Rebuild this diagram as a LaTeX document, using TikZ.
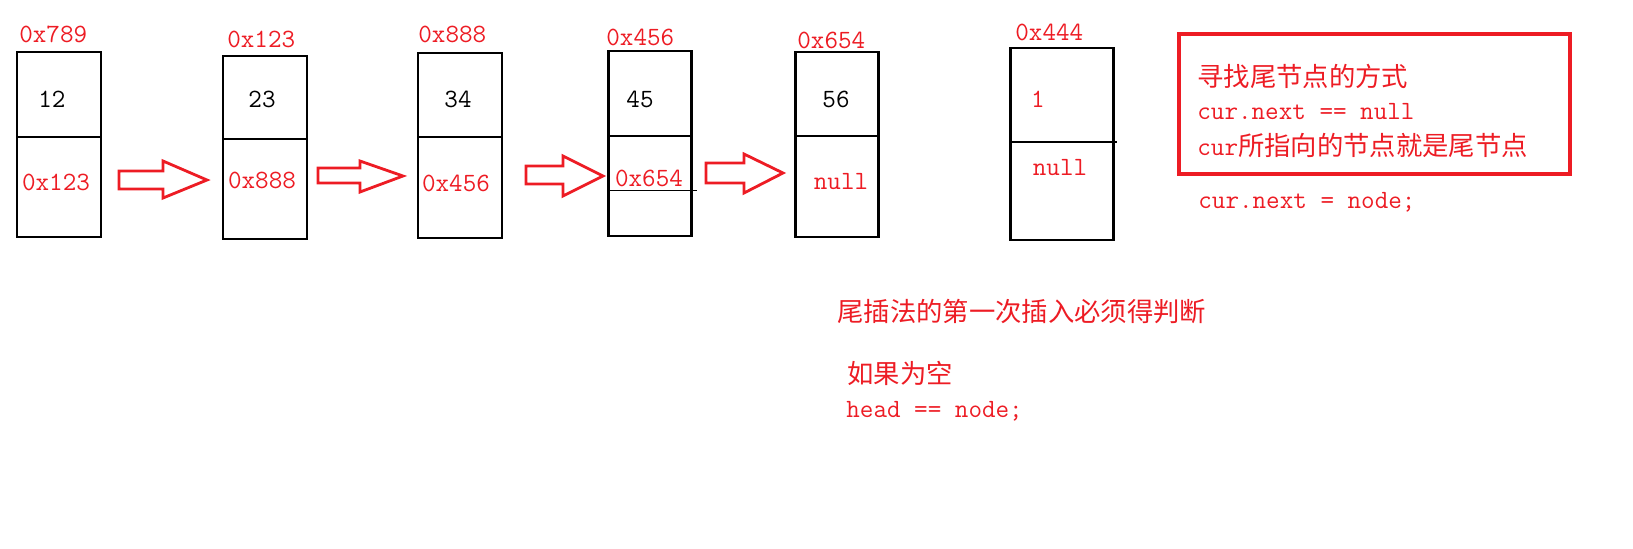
\documentclass[tikz,border=0pt]{standalone}
\usepackage{fontspec}
\newfontfamily\cjk{Noto Sans CJK SC}
\definecolor{paintred}{RGB}{237,28,36}
\tikzset{
	box/.style={draw=black,line width=1.7pt},
	fat/.style={draw=paintred,line width=1.6pt,line join=miter},
	txt/.style={inner sep=0pt,font=\fontsize{15pt}{18pt}\selectfont\ttfamily},
	adr/.style={txt,text=paintred,anchor=west},
	val/.style={txt,text=black},
	nxt/.style={txt,text=paintred}
}
\begin{document}
\begin{tikzpicture}[x=0.02cm,y=-0.02cm]
			\useasboundingbox (0,0) rectangle (1633,548);
			
			\node[adr] (L1) at (19,34) {0x789};
			\node[adr] (L2) at (227,39) {0x123};
			\node[adr] (L3) at (418,34) {0x888};
			\node[adr] (L4) at (606,37) {0x456};
			\node[adr] (L5) at (797,40) {0x654};
			\node[adr] (L6) at (1015,32) {0x444};
			
			\node[val] (V1) at (52,99) {12};
			\node[val] (V2) at (262,99) {23};
			\node[val] (V3) at (458,99) {34};
			\node[val] (V4) at (640,99) {45};
			\node[val] (V5) at (836,99) {56};
			\node[nxt] (V6) at (1038,99) {1};
			
			\node[nxt] (N1) at (56,182) {0x123};
			\node[nxt] (N2) at (262,180) {0x888};
			\node[nxt] (N3) at (456,183) {0x456};
			\node[nxt] (N4) at (649,178) {0x654};
			\node[nxt] (N5) at (841,182) {null};
			\node[nxt] (N6) at (1060,168) {null};
			
			\draw[box] (17,52) rectangle (101,237);
			\draw[box] (17,137) to (101,137);
			\draw[box] (223,56) rectangle (307,239);
			\draw[box] (223,139) to (307,139);
			\draw[box] (418,53) rectangle (502,238);
			\draw[box] (418,137) to (502,137);
			\draw[box] (608,51) rectangle (691,236);
			\draw[box] (608,136) to (691,136);
			\draw[box] (795,52) rectangle (878,237);
			\draw[box] (795,136) to (878,136);
			\draw[box] (1010,48) rectangle (1113,240);
			\draw[box] (1010,142) to (1117,142);
			
			\draw[black,line width=0.4pt] (610,190) to (697,190);
			
			\draw[fat] (119,171) -- (163,171) -- (163,161) -- (207,180) -- (163,198) -- (163,189) -- (119,189) -- cycle;
			\draw[fat] (318,168) -- (360,168) -- (360,161) -- (403,176) -- (360,192) -- (360,183) -- (318,183) -- cycle;
			\draw[fat] (526,166) -- (563,166) -- (563,156) -- (603,176) -- (563,196) -- (563,184) -- (526,184) -- cycle;
			\draw[fat] (706,163) -- (744,163) -- (744,154) -- (783,173) -- (744,193) -- (744,183) -- (706,183) -- cycle;
			
			\draw[paintred,line width=1.8pt] (1179,34) rectangle (1570,174);
			\node[adr] (T1) at (1197,76) {\cjk 寻找尾节点的方式};
			\node[adr,anchor=base west] (T2) at (1197,119) {cur.next == null};
			\node[adr,anchor=base west] (T3) at (1197,155) {cur{\cjk 所指向的节点就是尾节点}};
			\node[adr,anchor=base west] (T4) at (1198,208) {cur.next = node;};
			
			\node[adr] (H1) at (837,311) {\cjk 尾插法的第一次插入必须得判断};
			\node[adr] (H2) at (847,373) {\cjk 如果为空};
			\node[adr,anchor=base west] (H3) at (846,417) {head == node;};
			
			%\node (X) at (1300,300) {};
			\end{tikzpicture}
\end{document}
